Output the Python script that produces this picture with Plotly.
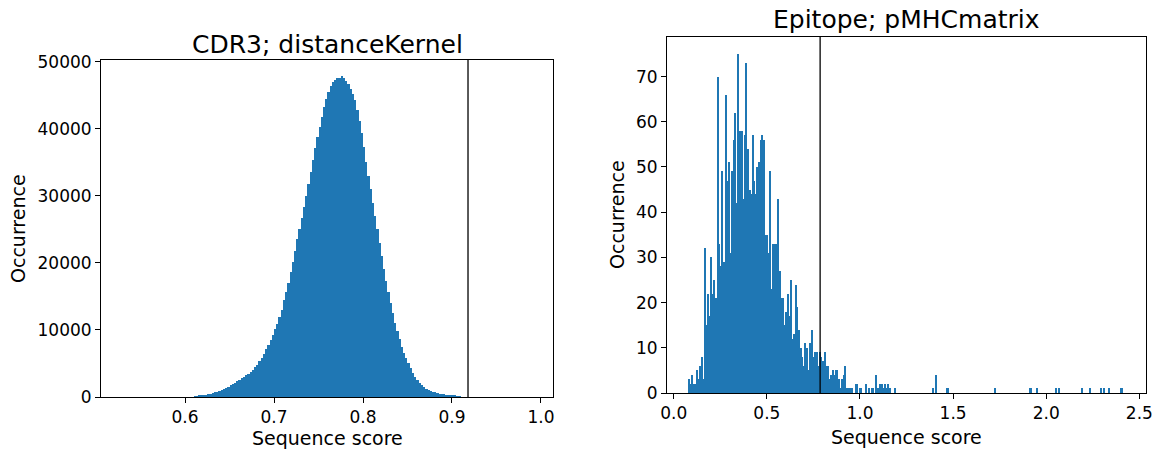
import plotly.graph_objects as go

# ---------------- data ----------------
# Left: CDR3; distanceKernel histogram (bin start, bin width, counts)
cdr3_bin_start = 0.61
cdr3_bin_width = 0.0025
cdr3_counts = [
    50, 100, 150, 200, 280, 350, 420, 500, 600, 700,
    820, 950, 1080, 1220, 1380, 1550, 1750, 1950, 2150, 2400,
    2600, 2850, 3050, 3250, 3450, 3750, 4050, 4400, 4800, 5300,
    5800, 6400, 7100, 7800, 8500, 9300, 10100, 10900, 11900, 13000,
    14500, 15700, 17000, 18600, 20200, 21800, 23500, 25000, 26700, 28300,
    30000, 31800, 33600, 35400, 37100, 38800, 40300, 41800, 43200, 44400,
    45500, 46300, 46900, 47300, 47500, 47600, 47800, 47500, 47100, 46700,
    46000, 45200, 44300, 42800, 41200, 39400, 37300, 35000, 33000, 31000,
    29000, 27000, 25000, 23000, 21000, 19100, 17300, 15600, 14000, 12500,
    11000, 9800, 8600, 7500, 6600, 5800, 5000, 4300, 3650, 3050,
    2550, 2150, 1800, 1500, 1250, 1050, 900, 780, 680, 600,
    520, 450, 390, 340, 290, 250, 210, 170, 130, 90,
]
cdr3_threshold = 0.918

# Right: Epitope; pMHCmatrix histogram
epi_bin_start = 0.0785
epi_bin_width = 0.00857
epi_counts = [
    3, 2, 4, 2, 2, 5, 3, 6, 8, 3, 32, 15, 22, 17, 30, 22, 25, 21, 70, 33,
    28, 49, 29, 66, 47, 51, 31, 49, 56, 62, 42, 75, 58, 58, 43, 57,
    73, 54, 45, 44, 57, 47, 44, 50, 51, 56, 57, 56, 35, 35, 31, 49, 23, 33,
    33, 33, 43, 27, 21, 21, 15, 18, 22, 17, 25, 12, 13, 24, 19,
    14, 10, 8, 6, 11, 10, 5, 11, 14, 8, 9, 9, 6, 9, 8, 7, 9, 6, 6, 3,
    4, 5, 4, 5, 5, 3, 1, 3, 4, 6, 1, 1, 1, 1, 0, 0, 2,
    0, 1, 1, 0, 0, 2, 0, 1, 0, 1, 0, 4, 1, 1, 2, 2, 1, 2, 1, 2, 1, 0, 0, 1,
]
# isolated outliers in the tail (score, count)
epi_tail_scores = [1.398, 1.414, 1.468, 1.725, 1.917, 1.955, 2.057, 2.067,
                   2.191, 2.233, 2.298, 2.314, 2.335, 2.405]
epi_tail_counts = [1, 4, 1, 1, 1, 1, 1, 1, 1, 1, 1, 1, 1, 1]
epi_threshold = 0.786

left_title = "CDR3; distanceKernel"
right_title = "Epitope; pMHCmatrix"
x_label = "Sequence score"
y_label = "Occurrence"

# ---------------- derived ----------------
cdr3_x = [cdr3_bin_start + (i + 0.5) * cdr3_bin_width for i in range(len(cdr3_counts))]
epi_x = [epi_bin_start + (i + 0.5) * epi_bin_width for i in range(len(epi_counts))]
epi_y = list(epi_counts)
for s, c in zip(epi_tail_scores, epi_tail_counts):
    k = int((s - epi_bin_start) // epi_bin_width)
    epi_x.append(epi_bin_start + (k + 0.5) * epi_bin_width)
    epi_y.append(c)

W, H = 1156, 452
BLUE = "#1f77b4"
FONT = "DejaVu Sans"

def px_x(p):
    return p / W

def px_y(p):
    return 1 - p / H

fig = go.Figure()
fig.add_trace(go.Bar(x=cdr3_x, y=cdr3_counts, width=cdr3_bin_width,
                     marker=dict(color=BLUE, line=dict(width=0)),
                     xaxis="x", yaxis="y", hoverinfo="x+y"))
fig.add_trace(go.Bar(x=epi_x, y=epi_y, width=epi_bin_width,
                     marker=dict(color=BLUE, line=dict(width=0)),
                     xaxis="x2", yaxis="y2", hoverinfo="x+y"))

axis_common = dict(showline=True, mirror=True, linecolor="black", linewidth=1,
                   ticks="outside", ticklen=5, tickwidth=1, tickcolor="black",
                   tickfont=dict(family=FONT, size=17, color="black"),
                   showgrid=False, zeroline=False, automargin=False)

fig.update_layout(
    width=W, height=H,
    margin=dict(l=0, r=0, t=0, b=0, autoexpand=False),
    paper_bgcolor="white", plot_bgcolor="white",
    showlegend=False, bargap=0, barmode="overlay",
    font=dict(family=FONT, color="black"),
    xaxis=dict(domain=[px_x(101), px_x(553)], anchor="y", range=[0.5056, 1.0135],
               tickvals=[0.6, 0.7, 0.8, 0.9, 1.0], tickformat=".1f", **axis_common),
    yaxis=dict(domain=[px_y(397), px_y(60)], anchor="x", range=[0, 50250],
               tickvals=[0, 10000, 20000, 30000, 40000, 50000], tickformat="d", **axis_common),
    xaxis2=dict(domain=[px_x(667), px_x(1146)], anchor="y2", range=[-0.036, 2.5355],
                tickvals=[0, 0.5, 1.0, 1.5, 2.0, 2.5], tickformat=".1f", **axis_common),
    yaxis2=dict(domain=[px_y(393), px_y(37)], anchor="x2", range=[0, 78.75],
                tickvals=[0, 10, 20, 30, 40, 50, 60, 70], tickformat="d", **axis_common),
)

fig.add_shape(type="line", xref="x", yref="y domain", x0=cdr3_threshold, x1=cdr3_threshold,
              y0=0, y1=1, line=dict(color="black", width=1.3))
fig.add_shape(type="line", xref="x2", yref="y2 domain", x0=epi_threshold, x1=epi_threshold,
              y0=0, y1=1, line=dict(color="black", width=1.3))

ann = []
ann.append(dict(text=left_title, x=px_x(327), y=px_y(44), xref="paper", yref="paper",
                showarrow=False, font=dict(size=25, family=FONT, color="black"),
                xanchor="center", yanchor="middle"))
ann.append(dict(text=right_title, x=px_x(906), y=px_y(20), xref="paper", yref="paper",
                showarrow=False, font=dict(size=25, family=FONT, color="black"),
                xanchor="center", yanchor="middle"))
ann.append(dict(text=x_label, x=px_x(327), y=px_y(438), xref="paper", yref="paper",
                showarrow=False, font=dict(size=19, family=FONT, color="black"),
                xanchor="center", yanchor="middle"))
ann.append(dict(text=x_label, x=px_x(906), y=px_y(437), xref="paper", yref="paper",
                showarrow=False, font=dict(size=19, family=FONT, color="black"),
                xanchor="center", yanchor="middle"))
ann.append(dict(text=y_label, x=px_x(18), y=px_y(229), xref="paper", yref="paper",
                showarrow=False, textangle=-90, font=dict(size=19, family=FONT, color="black"),
                xanchor="center", yanchor="middle"))
ann.append(dict(text=y_label, x=px_x(617), y=px_y(215), xref="paper", yref="paper",
                showarrow=False, textangle=-90, font=dict(size=19, family=FONT, color="black"),
                xanchor="center", yanchor="middle"))
fig.update_layout(annotations=ann)

fig.write_html("out.html", config={"displayModeBar": False},
               post_script="document.body.style.margin='0';document.body.style.overflow='hidden';")
